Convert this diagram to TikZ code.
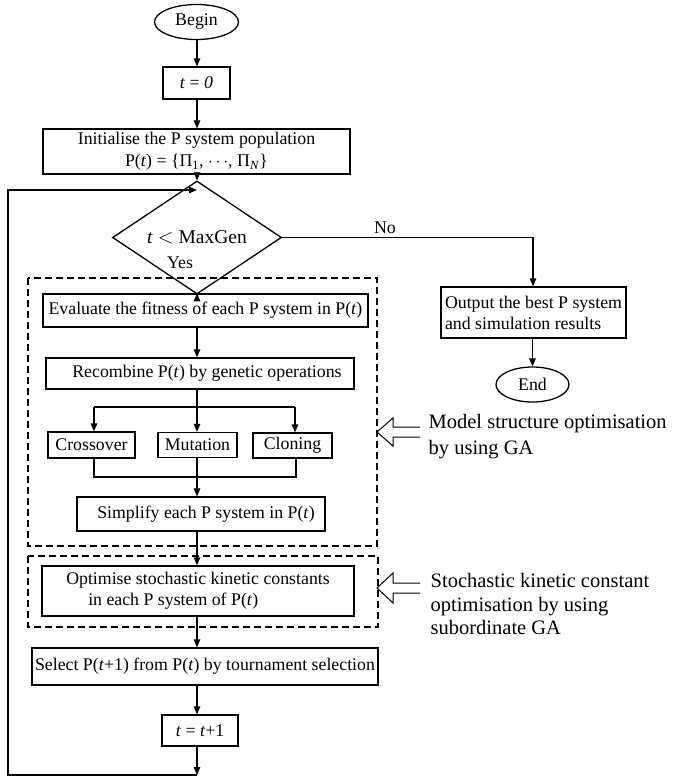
\documentclass[tikz,border=0pt]{standalone}
\usepackage{fontspec}
\setmainfont{Liberation Serif}
\usetikzlibrary{shapes.geometric,arrows.meta}
\newcommand\boxfnt{\fontsize{17.8}{21}\selectfont}
\newcommand\bigfnt{\fontsize{20.5}{26}\selectfont}
\newcommand\diafnt{\fontsize{19.5}{23}\selectfont}
\begin{document}
\begin{tikzpicture}[x=1pt,y=-1pt,line width=1.3pt,
  box/.style={draw,rectangle,inner sep=0pt,font=\boxfnt,align=center},
  oval/.style={draw,ellipse,inner sep=0pt,font=\boxfnt},
  sz/.style 2 args={minimum width=#1pt,minimum height=#2pt},
  arr/.style={-{Triangle[length=8pt,width=6.5pt]}},
  dbox/.style={draw,dash pattern=on 7pt off 4pt,line width=1.3pt},
  hollow/.style={draw,line width=1pt},
  lbl/.style={font=\boxfnt,inner sep=0pt},
  side/.style={font=\bigfnt,align=left,inner sep=0pt,anchor=west}]
\useasboundingbox (0,0) rectangle (674,779);

% nodes
\node[oval,sz={84}{35}] (begin) at (196.5,22) {Begin};
\node[box,sz={67}{32}] (t0) at (196.5,83) {\textit{t} = \textit{0}};
\node[box,sz={307}{45}] (init) at (196.5,151.5) {Initialise the P system population\\[1pt]P(\textit{t}) = \{Π\textsubscript{1}, $\cdots$, Π\textsubscript{\textit{N}}\}};
\node[draw,diamond,inner sep=0pt,sz={169}{51},font=\diafnt] (dia) at (197,237.5) {\textit{t} $<$ MaxGen};
\node[box,sz={185}{51},align=left] (out) at (533.5,312.5) {Output the best P system\\and simulation results};
\node[oval,sz={73}{35}] (end) at (532.5,384.5) {End};

\node[box,sz={325}{33}] (eval) at (205.5,310.5) {Evaluate the fitness of each P system in P(\textit{t})};
\node[box,sz={308}{31}] (recomb) at (200,373.5) {\hspace*{14pt}Recombine P(\textit{t}) by genetic operations};
\node[box,sz={87}{26}] (cross) at (91.5,445) {Crossover};
\node[box,sz={79}{25}] (mut) at (197.5,445) {Mutation};
\node[box,sz={79}{25}] (clon) at (292.5,445.5) {Cloning};
\node[box,sz={248}{34}] (simp) at (201,514) {\hspace*{10pt}Simplify each P system in P(\textit{t})};
\node[box,sz={312}{50},align=left] (opt) at (198,591) {Optimise stochastic kinetic constants\\\hspace*{22pt}in each P system of P(\textit{t})};
\node[box,sz={346}{37}] (sel) at (205,666.5) {Select P(\textit{t}+1) from P(\textit{t}) by tournament selection};
\node[box,sz={76}{31}] (tp1) at (200,730.5) {\textit{t} = \textit{t}+1};

% dashed groups
\draw[dbox] (28,278) rectangle (377,546);
\draw[dbox] (28,556) rectangle (378,627);

% spine and helper coordinates
\coordinate (sp) at (197,0);
\coordinate (loopin) at (197,190);
\coordinate (bot) at (197,775);
\coordinate (lcorner) at (8,775);
\coordinate (tcorner) at (8,190);
\coordinate (bl) at (94,407);
\coordinate (br) at (295,407);
\coordinate (ml) at (94,477);
\coordinate (mr) at (296,477);
\coordinate (nocorner) at (533,237.5);

% main flow
\draw[arr] (begin.south -| sp) -- (t0.north -| sp);
\draw[arr] (t0.south -| sp) -- (init.north -| sp);
\draw[arr] (init.south -| sp) -- (dia.north);
\draw[arr] (dia.south) -- (eval.north -| sp);
\draw[arr] (dia.east) -- (nocorner) -- (out.north -| nocorner);
\draw[arr] (out.south -| end.north) -- (end.north);
\draw[arr] (eval.south -| sp) -- (recomb.north -| sp);
\draw (recomb.south -| sp) -- (sp |- bl);
\draw[arr] (sp |- bl) -- (mut.north -| sp);
\draw (bl) -- (br);
\draw[arr] (bl) -- (bl |- cross.north);
\draw[arr] (br) -- (br |- clon.north);
\draw (bl |- cross.south) -- (ml) -- (mr) -- (mr |- clon.south);
\draw[arr] (mut.south -| sp) -- (simp.north -| sp);
\draw[arr] (simp.south -| sp) -- (opt.north -| sp);
\draw[arr] (opt.south -| sp) -- (sel.north -| sp);
\draw[arr] (sel.south -| sp) -- (tp1.north -| sp);
\draw[arr] (tp1.south -| sp) -- (bot);
\draw[arr] (bot) -- (lcorner) -- (tcorner) -- (loopin);

% labels
\node[lbl] (yes) at (180,263) {Yes};
\node[lbl] (no) at (385,228) {No};

% hollow arrows and side notes
\draw[hollow] (420,427) -- (393,427) -- (393,418) -- (377,432) -- (393,446) -- (393,437) -- (420,437);
\draw[hollow] (420,583) -- (393,583) -- (393,573) -- (377,588) -- (393,603) -- (393,593) -- (420,593);
\node[side] (note1) at (428,437) {Model structure optimisation\\by using GA};
\node[side] (note2) at (430,604) {Stochastic kinetic constant\\[-2.5pt]optimisation by using\\[-2.5pt]subordinate GA};
\end{tikzpicture}
\end{document}
